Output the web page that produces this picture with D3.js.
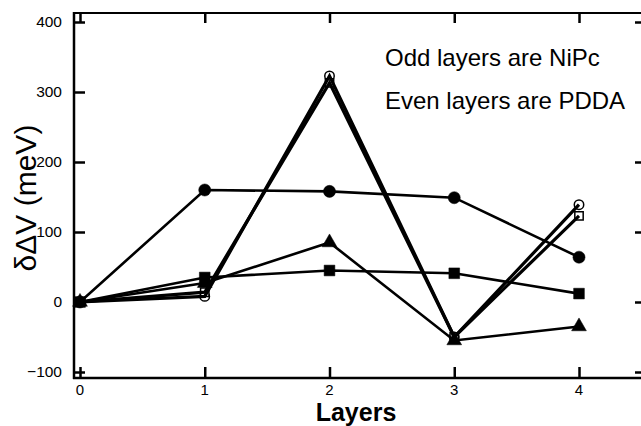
<!DOCTYPE html>
<html>
<head>
<meta charset="utf-8">
<script src="https://cdn.jsdelivr.net/npm/d3@7"></script>
<style>
  html, body { margin: 0; padding: 0; background: #fff; }
  svg { display: block; }
  text { font-family: "Liberation Sans", Arial, Helvetica, sans-serif; fill: #000; }
</style>
</head>
<body>
<svg id="chart" width="641" height="426"></svg>
<script>
// Layer index along the x axis
const layers = [0, 1, 2, 3, 4];

// Surface potential change per layer (meV) for each film
const filledCircles   = [0, 160, 158, 149, 64];
const filledSquares   = [0, 35, 45, 41, 12];
const filledTriangles = [0, 27, 85, -55, -35];
const openCircles     = [0, 8, 323, -50, 139];
const openSquares     = [0, 14, 313, -50, 123];

const yTicks = [-100, 0, 100, 200, 300, 400];
const yTicksRight = [-100, 0, 100, 200, 400];
const xTicks = [0, 1, 2, 3, 4];

const noteLines = ["Odd layers are NiPc", "Even layers are PDDA"];
const xTitle = "Layers";
const yTitle = "δΔV (meV)";

const svg = d3.select("#chart");

const frame = { left: 74, right: 641, top: 13, bottom: 378 };

const x = d3.scaleLinear().domain([0, 4]).range([80, 579]);
const y = d3.scaleLinear().domain([-100, 400]).range([372, 22]);

// Frame
const g = svg.append("g");
g.append("line").attr("x1", frame.left).attr("x2", frame.left)
  .attr("y1", frame.top - 1).attr("y2", frame.bottom + 1)
  .attr("stroke", "#000").attr("stroke-width", 2.5);
g.append("line").attr("x1", frame.left - 1).attr("x2", frame.right)
  .attr("y1", frame.bottom).attr("y2", frame.bottom)
  .attr("stroke", "#000").attr("stroke-width", 2.5);
g.append("line").attr("x1", frame.left - 1).attr("x2", frame.right)
  .attr("y1", frame.top).attr("y2", frame.top)
  .attr("stroke", "#000").attr("stroke-width", 2);

// Left axis: inward ticks and labels
const leftAxis = d3.axisRight(y).tickValues(yTicks).tickSize(11).tickFormat("");
const la = svg.append("g").attr("transform", `translate(${frame.left},0)`).call(leftAxis);
la.select(".domain").remove();
la.selectAll(".tick line").attr("stroke", "#000").attr("stroke-width", 2.5);

svg.append("g").selectAll("text").data(yTicks).join("text")
  .attr("x", 62).attr("y", d => y(d)).attr("dy", "0.35em")
  .attr("text-anchor", "end").attr("font-size", 15.5)
  .text(d => d3.format("d")(d));

// Right axis: inward ticks
const rightAxis = d3.axisLeft(y).tickValues(yTicksRight).tickSize(6).tickFormat("");
const ra = svg.append("g").attr("transform", `translate(${frame.right},0)`).call(rightAxis);
ra.select(".domain").remove();
ra.selectAll(".tick line").attr("stroke", "#000").attr("stroke-width", 2.5);

// Bottom axis: inward ticks and labels
const bottomAxis = d3.axisTop(x).tickValues(xTicks).tickSize(11).tickFormat("");
const ba = svg.append("g").attr("transform", `translate(0,${frame.bottom})`).call(bottomAxis);
ba.select(".domain").remove();
ba.selectAll(".tick line").attr("stroke", "#000").attr("stroke-width", 2.5);

svg.append("g").selectAll("text").data(xTicks).join("text")
  .attr("x", d => x(d)).attr("y", 394.5)
  .attr("text-anchor", "middle").attr("font-size", 15)
  .text(d => d);

// Top axis: inward ticks
const topAxis = d3.axisBottom(x).tickValues(xTicks).tickSize(10).tickFormat("");
const ta = svg.append("g").attr("transform", `translate(0,${frame.top})`).call(topAxis);
ta.select(".domain").remove();
ta.selectAll(".tick line").attr("stroke", "#000").attr("stroke-width", 2.5);

// Axis titles
svg.append("text")
  .attr("x", 356).attr("y", 420.5)
  .attr("text-anchor", "middle").attr("font-size", 25).attr("font-weight", "bold")
  .text(xTitle);

svg.append("text")
  .attr("transform", "translate(36,198) rotate(-90)")
  .attr("text-anchor", "middle").attr("font-size", 30)
  .text(yTitle);

// Annotation
svg.append("g").selectAll("text").data(noteLines).join("text")
  .attr("x", 385).attr("y", (d, i) => 66 + i * 43)
  .attr("font-size", 24)
  .text(d => d);

// Series
const series = [
  { values: filledCircles,   shape: "circle",   open: false, width: 2.6 },
  { values: filledSquares,   shape: "square",   open: false, width: 2.6 },
  { values: filledTriangles, shape: "triangle", open: false, width: 2.6 },
  { values: openCircles,     shape: "circle",   open: true,  width: 3.2 },
  { values: openSquares,     shape: "square",   open: true,  width: 3.2 }
];

const line = d3.line().x((d, i) => x(layers[i])).y(d => y(d));
const symbolType = { circle: d3.symbolCircle, square: d3.symbolSquare, triangle: d3.symbolTriangle };
const symbolSize = { circle: 115, square: 115, triangle: 95 };

function drawMarkers(s) {
  svg.append("g").selectAll("path").data(s.values).join("path")
    .attr("transform", (d, i) => `translate(${x(layers[i])},${y(d)})`)
    .attr("d", d3.symbol().type(symbolType[s.shape]).size(s.open ? 70 : symbolSize[s.shape]))
    .attr("fill", s.open ? "#fff" : "#000").attr("stroke", "#000")
    .attr("stroke-width", s.open ? 1.5 : 0.5);
}

// Hollow markers sit beneath the traces, solid ones on top
series.filter(s => s.open).forEach(drawMarkers);

svg.append("g").selectAll("path").data(series).join("path")
  .attr("d", s => line(s.values))
  .attr("fill", "none").attr("stroke", "#000")
  .attr("stroke-width", s => s.width).attr("stroke-linejoin", "miter");

series.filter(s => !s.open).forEach(drawMarkers);
</script>
</body>
</html>
